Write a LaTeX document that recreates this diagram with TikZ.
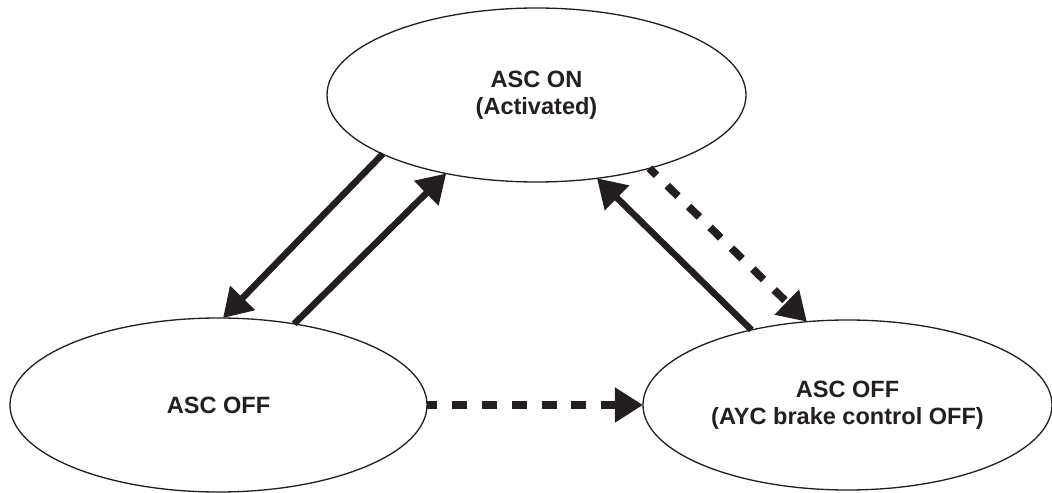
\documentclass[tikz,border=0pt]{standalone}
\usepackage{fontspec}
\setmainfont{Liberation Sans}
\usetikzlibrary{shapes.geometric,arrows.meta}
\definecolor{ink}{HTML}{231F20}
\begin{document}
\begin{tikzpicture}[scale=0.2]
\tikzstyle{every node}+=[inner sep=0pt]
\tikzstyle{state}=[draw=ink, ellipse, line width=0.75pt, outer sep=0pt, align=center, text=ink, font=\fontsize{13.4}{15.3}\selectfont\bfseries]
\tikzstyle{solidarrow}=[ink, line width=3.7pt, -{Triangle[length=16pt,width=19pt]}]
\tikzstyle{dashedarrow}=[ink, line width=4.4pt, dash pattern=on 8.5pt off 8.5pt, dash phase=2.8pt, -{Triangle[length=16pt,width=19pt]}]
\useasboundingbox (0,0) rectangle (105.2,-49.3);
\node [state, minimum width=8.38cm, minimum height=3.48cm] (on) at (53.65,-9.5) {ASC ON\\(Activated)};
\node [state, minimum width=8.34cm, minimum height=3.48cm] (off) at (21.85,-40.5) {ASC OFF};
\node [state, minimum width=8.18cm, minimum height=3.4cm] (ayc) at (84.75,-40.5) {ASC OFF\\(AYC brake control OFF)};
\draw [solidarrow] (on.201.35) -- (off.87.1);
\draw [solidarrow] (off.47) -- (on.221.25);
\draw [solidarrow] (ayc.142.3) -- (on.306.1);
\draw [dashedarrow] (on.327.9) -- (ayc.116.8);
\draw [dashedarrow] (off.east) -- (ayc.west);
\end{tikzpicture}
\end{document}
